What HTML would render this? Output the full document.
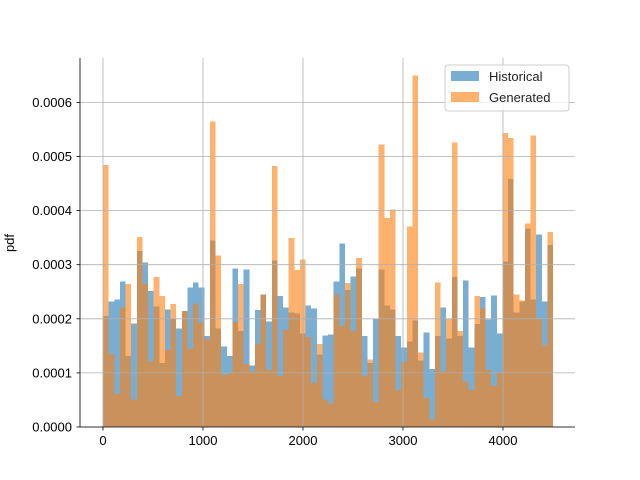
<!DOCTYPE html>
<html><head><meta charset="utf-8"><style>
body{margin:0;background:#fff;}
svg{display:block;font-family:"Liberation Sans",sans-serif;}
</style></head><body>
<svg id="chart" width="640" height="480" xmlns="http://www.w3.org/2000/svg">
<g id="bars" shape-rendering="crispEdges"></g>
<g id="grid"></g>
<g id="axes"></g>
<text x="14" y="243" font-size="13" text-anchor="middle" transform="rotate(-90 14 243)">pdf</text>
<g>
<rect x="445" y="65" width="124" height="46" rx="3" fill="#fff" fill-opacity="0.8" stroke="#ccc"/>
<rect x="451" y="71" width="28" height="10" fill="#1f77b4" fill-opacity="0.6"/>
<text x="489" y="81" font-size="13" fill="#222">Historical</text>
<rect x="451" y="92" width="28" height="10" fill="#ff7f0e" fill-opacity="0.6"/>
<text x="489" y="102" font-size="13" fill="#222">Generated</text>
</g>
</svg>
<script>
const binStart = 0;
const binEnd = 4500;
const historical = [2.05,2.32,2.36,2.69,1.31,1.91,3.25,3.04,2.51,2.23,1.18,2.17,2.01,1.82,2.14,2.58,2.67,2.58,1.68,3.45,1.82,1.49,1.31,2.93,1.77,2.91,1.14,2.16,
2.45,1.95,3.08,2.42,2.21,2.12,2.10,1.73,2.25,2.19,1.34,1.69,1.71,2.69,3.39,2.53,2.78,2.93,1.68,1.18,2.01,2.91,2.25,2.17,1.68,1.47,1.58,1.97,
1.23,1.75,1.07,1.68,2.21,1.64,2.77,1.68,2.71,1.47,1.90,2.40,1.99,2.43,1.73,3.06,4.58,2.12,2.32,3.67,2.36,3.56,2.32,3.36];
const generated = [4.84,1.35,0.61,2.21,2.64,0.51,3.51,2.64,1.21,2.77,2.42,1.42,2.27,0.57,2.14,1.44,2.28,1.92,1.62,5.65,3.17,0.96,1.01,1.94,2.64,1.16,1.03,1.53,
2.45,1.05,4.82,0.94,1.79,3.49,2.90,3.10,1.66,0.81,1.53,0.51,0.43,2.45,1.87,2.66,1.77,3.12,0.94,1.25,0.46,5.22,3.86,4.02,0.68,1.20,3.71,6.50,
1.38,0.54,0.14,2.67,1.03,2.01,5.26,1.77,0.84,0.68,2.42,2.19,1.05,0.76,1.01,5.43,5.34,2.45,2.34,3.76,5.39,2.01,1.51,3.60];
const xTicks = [0,1000,2000,3000,4000];
const yTicks = [0,1,2,3,4,5,6];
const yTickLabels = ["0.0000","0.0001","0.0002","0.0003","0.0004","0.0005","0.0006"];

const NS="http://www.w3.org/2000/svg";
const L=80,R=575,T=58,B=427;
const xs=v=>103+(v/1000)*100;
const ys=v=>427-v*54.1;
function mk(tag,attrs,parent){const e=document.createElementNS(NS,tag);for(const k in attrs)e.setAttribute(k,attrs[k]);parent.appendChild(e);return e;}
const bars=document.getElementById('bars'),grid=document.getElementById('grid'),axes=document.getElementById('axes');
const n=historical.length,w=(binEnd-binStart)/n;
[[historical,'#1f77b4','historical'],[generated,'#ff7f0e','generated']].forEach(([arr,col,nm])=>{
  arr.forEach((v,i)=>{
    const x0=xs(binStart+i*w),x1=xs(binStart+(i+1)*w);
    const r=mk('rect',{x:x0,y:ys(v),width:x1-x0,height:ys(0)-ys(v),fill:col,'fill-opacity':0.6},bars);
    
    
  });
});
xTicks.forEach(t=>{
  const g=mk('line',{x1:xs(t),x2:xs(t),y1:T,y2:B,stroke:'#b0b0b0','stroke-width':0.8},grid);
  
  
  const tk=mk('line',{x1:xs(t),x2:xs(t),y1:B,y2:B+3.5,stroke:'#000','stroke-width':0.8},axes);
  
  
  const tx=mk('text',{x:xs(t),y:B+18,'font-size':13,'text-anchor':'middle'},axes);
  tx.textContent=t;
  
  
});
yTicks.forEach((t,i)=>{
  const g=mk('line',{x1:L,x2:R,y1:ys(t),y2:ys(t),stroke:'#b0b0b0','stroke-width':0.8},grid);
  
  
  const tk=mk('line',{x1:L-3.5,x2:L,y1:ys(t),y2:ys(t),stroke:'#000','stroke-width':0.8},axes);
  
  
  const tx=mk('text',{x:L-8,y:ys(t)+4.5,'font-size':13,'text-anchor':'end'},axes);
  tx.textContent=yTickLabels[i];
  
  
});
const sl=mk('line',{x1:L,x2:L,y1:T,y2:B,stroke:'#000','stroke-width':0.8},axes);


const sb=mk('line',{x1:L,x2:R,y1:B,y2:B,stroke:'#000','stroke-width':0.8},axes);


</script>
</body></html>
